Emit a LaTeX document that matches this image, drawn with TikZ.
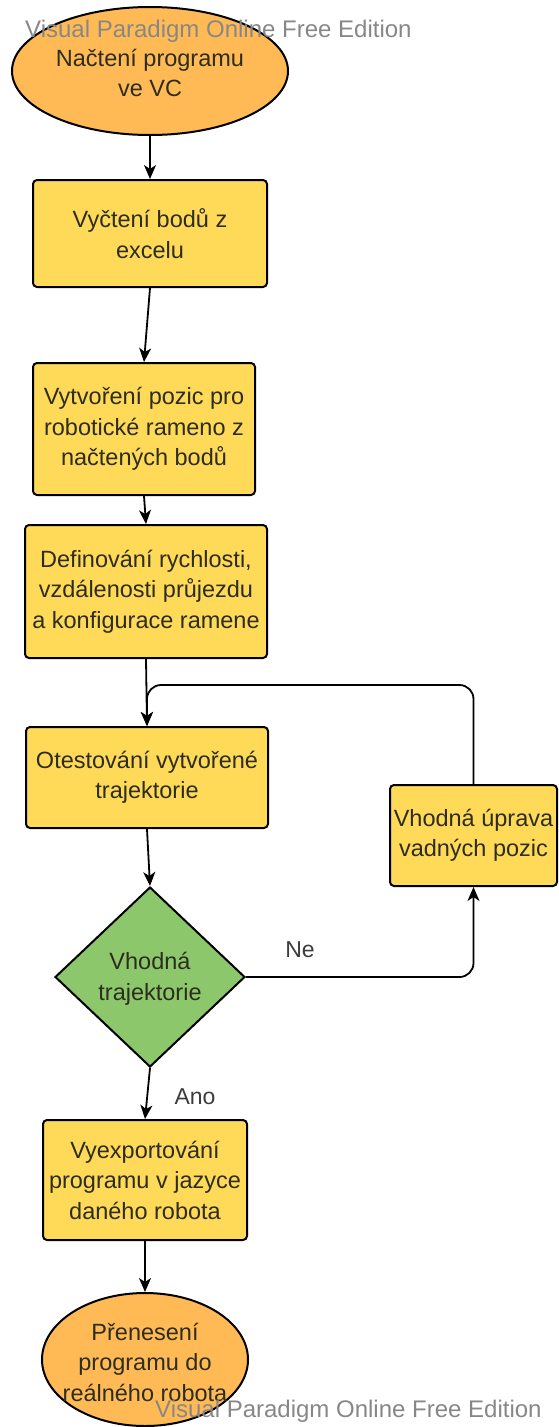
\documentclass[tikz,border=0pt]{standalone}
\usepackage{fontspec}
\setmainfont{Liberation Sans}
\usetikzlibrary{shapes.geometric,arrows.meta}
\definecolor{vporange}{RGB}{255,186,85}
\definecolor{vpyellow}{RGB}{255,217,88}
\definecolor{vpgreen}{RGB}{140,199,108}
\definecolor{vptext}{RGB}{45,45,30}
\definecolor{vplabel}{RGB}{60,60,60}
\definecolor{vpwater}{RGB}{135,135,135}
\begin{document}
\begin{tikzpicture}[x=1pt,y=-1pt,
  base/.style={draw=black, line width=2pt, inner sep=0pt},
  procbox/.style={base, rectangle, rounded corners=4pt, fill=vpyellow},
  termshape/.style={base, ellipse, fill=vporange},
  decshape/.style={base, diamond, fill=vpgreen},
  txt/.style={font=\fontsize{23.5}{30.5}\selectfont, text=vptext, align=center, inner sep=0pt},
  lbl/.style={font=\fontsize{23}{28}\selectfont, text=vplabel, inner sep=0pt},
  water/.style={font=\fontsize{24}{28}\selectfont, text=vpwater, inner sep=0pt},
  arr/.style={draw=black, line width=1.8pt, -{Stealth[length=14pt,width=12pt,inset=4pt]}},
]
\useasboundingbox (0,0) rectangle (558,1427);

% nodes
\node[termshape, minimum width=276pt, minimum height=128pt] (n1) at (150,71) {};
\node[txt] (n1t) at (150,73) {Načtení programu\\ve VC};

\node[procbox, minimum width=234pt, minimum height=107pt, txt] (n2) at (150,233.5) {Vyčtení bodů z\\excelu};

\node[procbox, minimum width=222pt, minimum height=132pt, txt] (n3) at (144,429) {Vytvoření pozic pro\\robotické rameno z\\načtených bodů};

\node[procbox, minimum width=242pt, minimum height=133pt, txt] (n4) at (146,591.5) {Definování rychlosti,\\vzdálenosti průjezdu\\a konfigurace ramene};

\node[procbox, minimum width=242pt, minimum height=101pt, txt] (n5) at (147,777.5) {Otestování vytvořené\\trajektorie};

\node[procbox, minimum width=167pt, minimum height=101pt, txt] (n6) at (473.5,835.5) {Vhodná úprava\\vadných pozic};

\node[decshape, minimum width=190pt, minimum height=180pt] (n7) at (150,977) {};
\node[txt] (n7t) at (150,979) {Vhodná\\trajektorie};

\node[procbox, minimum width=204pt, minimum height=120pt, txt] (n8) at (145,1180) {Vyexportování\\programu v jazyce\\daného robota};

\node[termshape, minimum width=206pt, minimum height=133pt] (n9) at (145,1359.5) {};
\node[txt] (n9t) at (145,1362) {Přenesení\\programu do\\reálného robota};

% connectors
\draw[arr] (n1.south) -- (n2.north);
\draw[arr] (n2.south) -- (n3.north);
\draw[arr] (n3.south) -- (n4.north);
\draw[arr] (n4.south) -- (n5.north);
\draw[arr] (n5.south) -- (n7.north);
\coordinate (loopc) at (n5.north |- 0,685);
\draw[arr, rounded corners=14pt] (n6.north) |- (loopc) -- (n5.north);
\draw[arr, rounded corners=14pt] (n7.east) -| (n6.south);
\draw[arr] (n7.south) -- (n8.north);
\draw[arr] (n8.south) -- (n9.north);

% labels
\node[lbl] (ne) at (300,950) {Ne};
\node[lbl] (ano) at (195,1097) {Ano};

% watermarks
\node[water, anchor=west] (w1) at (25,31) {Visual Paradigm Online Free Edition};
\node[water, anchor=west] (w2) at (155,1411) {Visual Paradigm Online Free Edition};
\end{tikzpicture}
\end{document}
